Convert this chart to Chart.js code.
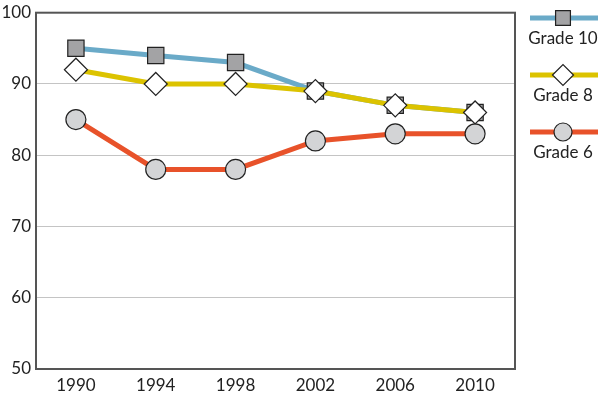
<!DOCTYPE html>
<html>
<head>
<meta charset="utf-8">
<script src="https://cdn.jsdelivr.net/npm/chart.js@4/dist/chart.umd.min.js"></script>
<style>
html,body{margin:0;padding:0;background:#fff;}
#wrap{width:600px;height:401px;position:relative;}
</style>
</head>
<body>
<div id="wrap"><canvas id="c"></canvas></div>
<script>
const years = ['1990','1994','1998','2002','2006','2010'];
const grade10 = [95, 94, 93, 89, 87, 86];
const grade8 = [92, 90, 90, 89, 87, 86];
const grade6 = [85, 78, 78, 82, 83, 83];
const seriesNames = ['Grade 10', 'Grade 8', 'Grade 6'];

const FONT = 'Lato, "Open Sans", sans-serif';
const styles = [
  {line:'#6aaac8', fill:'#a3a3a5', style:'rect', radius:11.5},
  {line:'#dcc300', fill:'#ffffff', style:'rectRot', radius:11.5},
  {line:'#e8522a', fill:'#d3d4d6', style:'circle', radius:10}
];

const boxPlugin = {
  id:'box',
  beforeDatasetsDraw(chart){
    const {ctx, chartArea:a} = chart;
    ctx.save();
    ctx.strokeStyle = '#555';
    ctx.lineWidth = 2;
    ctx.strokeRect(a.left, a.top, a.right - a.left, a.bottom - a.top);
    ctx.restore();
  }
};

const legendPlugin = {
  id:'customLegend',
  afterDraw(chart){
    const ctx = chart.ctx;
    const x0 = 530, x1 = 598, cx = 563;
    const ys = [18, 75, 132];
    ctx.save();
    seriesNames.forEach((name, i) => {
      const s = styles[i];
      const y = ys[i];
      ctx.strokeStyle = s.line;
      ctx.lineWidth = 5;
      ctx.beginPath(); ctx.moveTo(x0, y); ctx.lineTo(x1, y); ctx.stroke();
      ctx.fillStyle = s.fill;
      ctx.strokeStyle = '#222';
      ctx.lineWidth = 1.2;
      Chart.helpers.drawPoint(ctx, {pointStyle:s.style, radius:s.style==='circle'?9:10.5, borderWidth:1.2}, cx, y);
      ctx.fillStyle = '#222';
      ctx.font = '17px ' + FONT;
      ctx.textAlign = 'center';
      ctx.textBaseline = 'middle';
      ctx.fillText(name, cx, y + 21);
    });
    ctx.restore();
  }
};

const data = [grade10, grade8, grade6];
const orders = [1, 0, 2];

new Chart(document.getElementById('c'), {
  type:'line',
  data:{
    labels: years,
    datasets: seriesNames.map((n, i) => ({
      label:n,
      data:data[i],
      borderColor:styles[i].line,
      borderWidth:5,
      backgroundColor:styles[i].fill,
      pointBackgroundColor:styles[i].fill,
      pointBorderColor:'#222',
      pointBorderWidth:1.2,
      pointStyle:styles[i].style,
      pointRadius:styles[i].radius,
      pointHoverRadius:styles[i].radius,
      tension:0,
      order:orders[i],
      clip:false
    }))
  },
  options:{
    responsive:true,
    maintainAspectRatio:false,
    animation:false,
    devicePixelRatio:1,
    layout:{padding:{top:8, right:85, left:0, bottom:0}},
    plugins:{legend:{display:false}, tooltip:{enabled:false}},
    scales:{
      x:{
        offset:true,
        grid:{display:false, drawTicks:false},
        border:{display:false},
        ticks:{color:'#222', font:{family:FONT, size:17}, padding:6, maxRotation:0},
        afterFit(s){ s.height = 32; s.paddingLeft = 0; s.paddingRight = 0; }
      },
      y:{
        min:50, max:100,
        ticks:{stepSize:10, color:'#222', font:{family:FONT, size:17}, padding:5},
        grid:{color:'#c4c4c4', lineWidth:1, drawTicks:false},
        border:{display:false},
        afterFit(s){ s.width = 36; s.paddingTop = 0; s.paddingBottom = 0; }
      }
    }
  },
  plugins:[boxPlugin, legendPlugin]
});
</script>
</body>
</html>
